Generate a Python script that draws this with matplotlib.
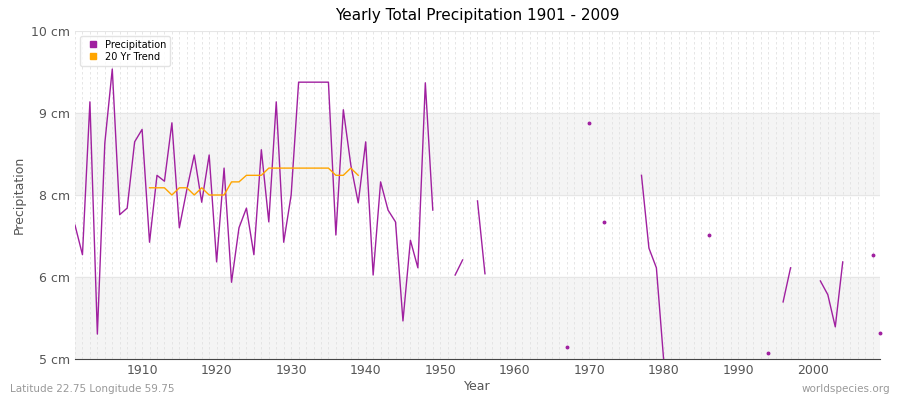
import numpy as np
import matplotlib
matplotlib.use("Agg")
import matplotlib.pyplot as plt

nan = np.nan
years = list(range(1901, 2010))
precip = [7.04, 6.59, 8.92, 5.38, 8.29, 9.42, 7.2, 7.3, 8.31, 8.5,
          6.78, 7.8, 7.71, 8.6, 7.0, 7.58, 8.11, 7.39, 8.11, 6.48,
          7.91, 6.17, 7.0, 7.3, 6.59, 8.19, 7.09, 8.92, 6.78, 7.5,
          9.22, 9.22, 9.22, 9.22, 9.22, 6.89, 8.8, 7.96, 7.38, 8.31,
          6.28, 7.7, 7.27, 7.09, 5.58, 6.81, 6.39, 9.21, 7.27, nan,
          nan, 6.28, 6.51, nan, 7.41, 6.3, nan, nan, nan, nan,
          nan, nan, nan, nan, nan, nan, 5.18, nan, nan, 8.6,
          nan, 7.09, nan, nan, nan, nan, 7.8, 6.69, 6.39, 4.95,
          nan, nan, nan, nan, nan, 6.89, nan, nan, nan, nan,
          nan, nan, nan, 5.09, nan, 5.87, 6.39, nan, nan, nan,
          6.19, 5.98, 5.49, 6.48, nan, nan, nan, 6.59, 5.4]
dot_years = [1967, 1970, 1972, 1986, 1994, 2008, 2009]
trend_years = list(range(1911, 1940))
trend = [7.61, 7.61, 7.61, 7.5, 7.61, 7.61, 7.5, 7.61, 7.5, 7.5,
         7.5, 7.7, 7.7, 7.8, 7.8, 7.8, 7.91, 7.91, 7.91, 7.91,
         7.91, 7.91, 7.91, 7.91, 7.91, 7.8, 7.8, 7.91, 7.8]
ytick_vals = [5, 6.25, 7.5, 8.75, 10]
ytick_labels = ["5 cm", "6 cm", "8 cm", "9 cm", "10 cm"]

p = np.array(precip)
dot_idx = [years.index(y) for y in dot_years]
line_p = p.copy()
line_p[dot_idx] = nan

fig = plt.figure(figsize=(9, 4), dpi=100)
ax = fig.add_axes([75/900, 41/400, 805/900, 328/400])
ax.set_xlim(1901, 2009)
ax.set_ylim(5, 10)
ax.set_facecolor("white")
ax.axhspan(5, 6.25, color="#f4f4f4", zorder=0)
ax.axhspan(7.5, 8.75, color="#f4f4f4", zorder=0)
for y in years:
    ax.axvline(y, color="#e2e2e2", lw=0.6, ls=(0, (3, 3)), zorder=1)
for y in ytick_vals:
    ax.axhline(y, color="#e6e6e6", lw=0.8, zorder=1)

ax.plot(years, line_p, color="#a020a0", lw=1, zorder=3)
ax.plot(dot_years, p[dot_idx], "o", color="#a020a0", ms=1.8, zorder=3, clip_on=False)
ax.plot(trend_years, trend, color="#ffa500", lw=1, zorder=3)

ax.set_xticks(range(1910, 2010, 10))
ax.set_yticks(ytick_vals)
ax.set_yticklabels(ytick_labels)
ax.tick_params(colors="#555555", labelsize=9, length=0)
for s in ["top", "right", "left"]:
    ax.spines[s].set_visible(False)
ax.spines["bottom"].set_color("#444444")
ax.set_xlabel("Year", color="#555555", fontsize=9, labelpad=2)
ax.set_ylabel("Precipitation", color="#555555", fontsize=9)
ax.set_title("Yearly Total Precipitation 1901 - 2009", fontsize=11, pad=8)

from matplotlib.lines import Line2D
h = [Line2D([], [], marker="s", ls="", color="#a020a0", ms=4),
     Line2D([], [], marker="s", ls="", color="#ffa500", ms=4)]
leg = ax.legend(h, ["Precipitation", "20 Yr Trend"], loc="upper left", fontsize=7,
                frameon=True, handletextpad=0.2, borderpad=0.4, labelspacing=0.2)
leg.get_frame().set_edgecolor("#dddddd")

fig.text(10/900, 8/400, "Latitude 22.75 Longitude 59.75", fontsize=7.5, color="#999999")
fig.text(890/900, 8/400, "worldspecies.org", fontsize=7.5, color="#999999", ha="right")
fig.savefig("out.png", dpi=100)
